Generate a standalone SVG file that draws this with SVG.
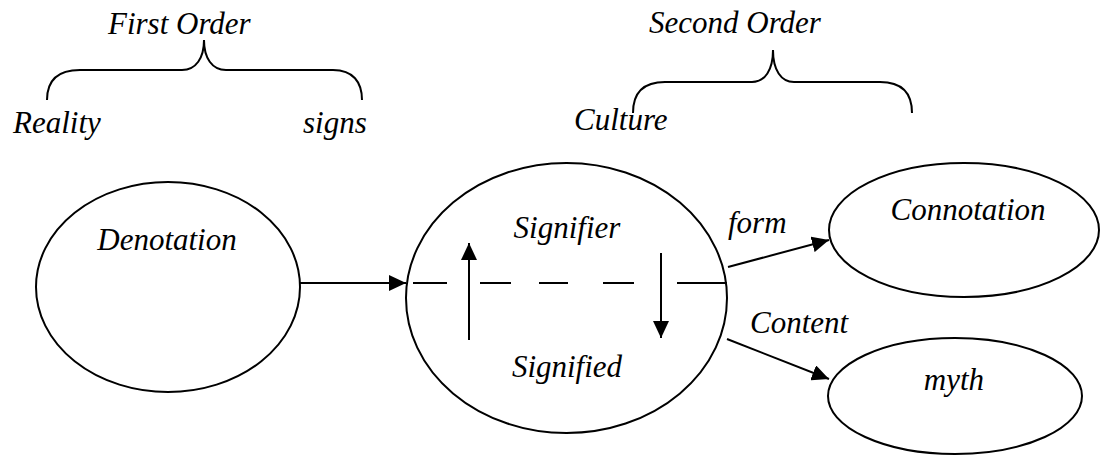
<svg xmlns="http://www.w3.org/2000/svg" width="1100" height="455" viewBox="0 0 1100 455" font-family="'Liberation Serif', 'DejaVu Serif', serif">
<style>
text{font-family:'Liberation Serif','DejaVu Serif',serif;font-style:italic;font-size:31px;fill:#000}
.n{fill:none;stroke:#000;stroke-width:2}
.c{fill:none;stroke:#000;stroke-width:2}
.m{text-anchor:middle}
</style>
<defs>
<marker id="ah" viewBox="0 0 17 16" refX="17" refY="8" markerWidth="17" markerHeight="16" markerUnits="userSpaceOnUse" orient="auto">
<path d="M0,0 L17,8 L0,16 Z" fill="#000"/>
</marker>
</defs>
<rect width="1100" height="455" fill="#fff"/>
<g id="first-order">
<text x="108" y="34">First Order</text>
<path class="c" d="M47,100 C47,82 56,70 80,70 L182,70 C196,70 204,58 204,40 C204,58 212,70 226,70 L333,70 C353,70 362,82 362,100"/>
<text x="13" y="133">Reality</text>
<text x="303" y="133">signs</text>
</g>
<g id="second-order">
<text x="649" y="33">Second Order</text>
<path class="c" d="M633,113 C633,94 642,82 665,82 L752,82 C765,82 773,70 773,50 C773,70 781,82 794,82 L880,82 C903,82 912,94 912,113"/>
<text x="574" y="130">Culture</text>
</g>
<g id="denotation">
<ellipse class="n" cx="168" cy="287" rx="132" ry="105"/>
<text class="m" x="167" y="250">Denotation</text>
</g>
<g id="sign">
<ellipse class="n" cx="566.5" cy="298" rx="160.5" ry="135"/>
<text class="m" x="567" y="238">Signifier</text>
<text class="m" x="567" y="377">Signified</text>
</g>
<g id="connotation">
<ellipse class="n" cx="964" cy="230" rx="135" ry="67"/>
<text class="m" x="968" y="220">Connotation</text>
</g>
<g id="myth">
<ellipse class="n" cx="955" cy="396" rx="127" ry="58"/>
<text class="m" x="954" y="390">myth</text>
</g>
<g id="connectors">
<line class="c" x1="300" y1="283" x2="406" y2="283" marker-end="url(#ah)"/>
<g class="c">
<line x1="413" y1="283" x2="447" y2="283"/>
<line x1="480" y1="283" x2="511" y2="283"/>
<line x1="539" y1="283" x2="568" y2="283"/>
<line x1="603" y1="283" x2="634" y2="283"/>
<line x1="677" y1="283" x2="727" y2="283"/>
</g>
<line class="c" x1="469" y1="340" x2="469" y2="243" marker-end="url(#ah)"/>
<line class="c" x1="661" y1="253" x2="661" y2="338" marker-end="url(#ah)"/>
<line class="c" x1="728" y1="267" x2="829" y2="240" marker-end="url(#ah)"/>
<line class="c" x1="727" y1="339" x2="829" y2="379" marker-end="url(#ah)"/>
<text x="728" y="233">form</text>
<text x="750" y="333">Content</text>
</g>
</svg>
